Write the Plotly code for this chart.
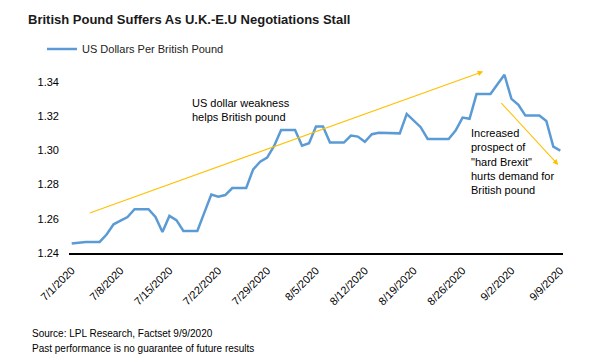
import pandas as pd
import plotly.graph_objects as go

# ---- data ----
dates = pd.date_range("2020-07-01", "2020-09-09", freq="D")
gbp_usd = [
    1.2455, 1.2460, 1.2465, 1.2465, 1.2465, 1.2508, 1.2568, 1.2589, 1.2610, 1.2656,
    1.2656, 1.2656, 1.2611, 1.2523, 1.2617, 1.2592, 1.2529, 1.2529, 1.2529, 1.2636,
    1.2742, 1.2729, 1.2739, 1.2780, 1.2780, 1.2780, 1.2889, 1.2934, 1.2958, 1.3026,
    1.3120, 1.3120, 1.3120, 1.3028, 1.3042, 1.3140, 1.3140, 1.3046, 1.3046, 1.3046,
    1.3087, 1.3081, 1.3051, 1.3095, 1.3104, 1.3104, 1.3104, 1.3100, 1.3214, 1.3175,
    1.3136, 1.3067, 1.3067, 1.3067, 1.3067, 1.3116, 1.3192, 1.3185, 1.3330, 1.3330,
    1.3330, 1.3387, 1.3443, 1.3302, 1.3267, 1.3204, 1.3204, 1.3204, 1.3173, 1.3022,
    1.2999,
]
tick_dates = ["2020-07-01", "2020-07-08", "2020-07-15", "2020-07-22", "2020-07-29",
              "2020-08-05", "2020-08-12", "2020-08-19", "2020-08-26", "2020-09-02",
              "2020-09-09"]
tick_text = ["7/1/2020", "7/8/2020", "7/15/2020", "7/22/2020", "7/29/2020",
             "8/5/2020", "8/12/2020", "8/19/2020", "8/26/2020", "9/2/2020", "9/9/2020"]
y_ticks = [1.24, 1.26, 1.28, 1.30, 1.32, 1.34]

title = "British Pound Suffers As U.K.-E.U Negotiations Stall"
series_name = "US Dollars Per British Pound"
note1 = "US dollar weakness<br>helps British pound"
note2 = "Increased<br>prospect of<br>\"hard Brexit\"<br>hurts demand for<br>British pound"

FONT = "Liberation Sans, Arial, sans-serif"
GOLD = "#FFC000"

fig = go.Figure()
fig.add_trace(go.Scatter(
    x=dates, y=gbp_usd, mode="lines", name=series_name,
    line=dict(color="#5B9BD5", width=2.5),
))

annotations = [
    # trend arrows
    dict(x="2020-08-28 23:00", y=1.3462, ax="2020-07-03 09:00", ay=1.2631,
         xref="x", yref="y", axref="x", ayref="y", text="", showarrow=True,
         arrowhead=2, arrowsize=1, arrowwidth=1.1, arrowcolor=GOLD),
    dict(x="2020-09-08 17:00", y=1.2915, ax="2020-08-31 08:40", ay=1.3286,
         xref="x", yref="y", axref="x", ayref="y", text="", showarrow=True,
         arrowhead=2, arrowsize=1, arrowwidth=1.1, arrowcolor=GOLD),
    dict(x="2020-07-18 00:00", y=1.3237, xref="x", yref="y", text=note1,
         showarrow=False, xanchor="left", yanchor="middle", align="left",
         font=dict(family=FONT, size=11, color="#000000")),
    dict(x="2020-08-26 22:00", y=1.2935, xref="x", yref="y", text=note2,
         showarrow=False, xanchor="left", yanchor="middle", align="left",
         font=dict(family=FONT, size=11, color="#000000")),
    # footer
    dict(x=-0.079, y=-0.4285, xref="paper", yref="paper",
         text="Source: LPL Research, Factset 9/9/2020", showarrow=False,
         xanchor="left", yanchor="middle",
         font=dict(family=FONT, size=10, color="#000000")),
    dict(x=-0.079, y=-0.509, xref="paper", yref="paper",
         text="Past performance is no guarantee of future results", showarrow=False,
         xanchor="left", yanchor="middle",
         font=dict(family=FONT, size=10, color="#000000")),
]

fig.update_layout(
    width=598, height=354,
    margin=dict(l=61, r=43, t=57, b=109),
    paper_bgcolor="white", plot_bgcolor="white",
    font=dict(family=FONT, size=11, color="#000000"),
    title=dict(text="<b>" + title + "</b>", x=20 / 598, xanchor="left",
               y=1 - 11 / 354, yanchor="middle",
               font=dict(family=FONT, size=13, color="#1a1a1a")),
    showlegend=True,
    legend=dict(orientation="h", x=-0.0547, xanchor="left", y=1.085, yanchor="middle",
                font=dict(family=FONT, size=11, color="#222222"),
                bgcolor="rgba(0,0,0,0)"),
    annotations=annotations,
)
fig.update_xaxes(
    type="date",
    range=["2020-06-30 14:40", "2020-09-09 09:20"],
    tickvals=tick_dates, ticktext=tick_text, tickangle=-45,
    showgrid=False, zeroline=False,
    showline=True, linecolor="#000000", linewidth=1.5,
    ticks="", ticklabelstandoff=5,
    tickfont=dict(family=FONT, size=11, color="#000000"),
)
fig.update_yaxes(
    range=[1.24, 1.35], tickvals=y_ticks, ticktext=[f"{v:.2f}" for v in y_ticks],
    showgrid=False, zeroline=False, showline=False, ticks="",
    ticklabelstandoff=9,
    tickfont=dict(family=FONT, size=11, color="#000000"),
)

fig.write_html("out.html")
